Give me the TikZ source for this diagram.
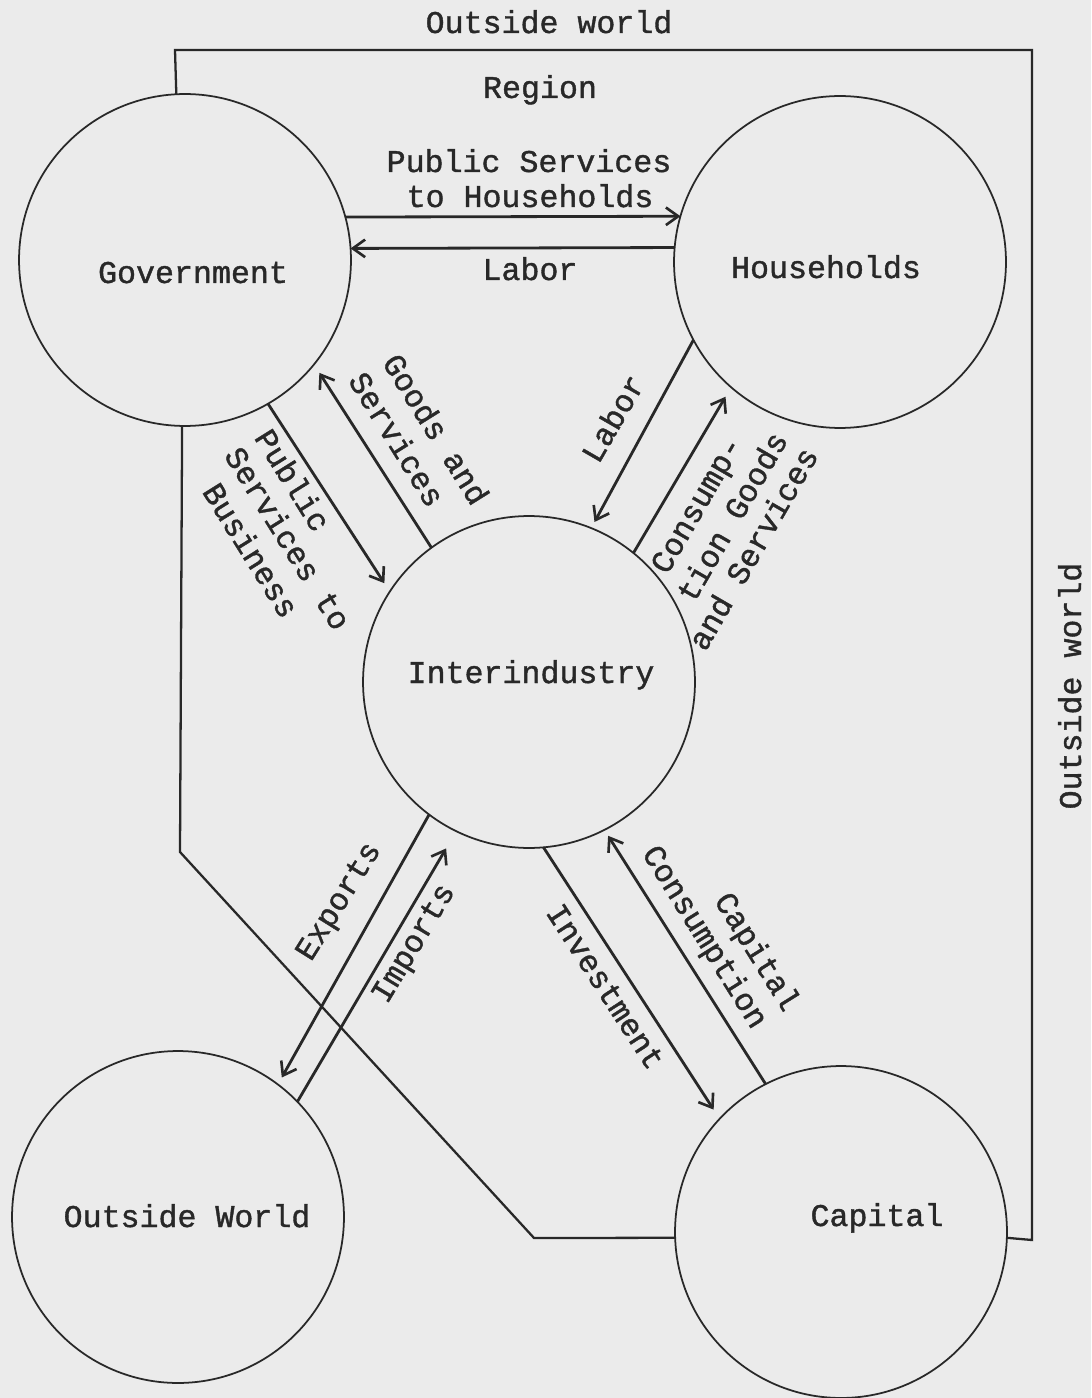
\documentclass[tikz,border=0pt]{standalone}
\usepackage{fontspec}
\newfontfamily\tw[FakeBold=1.2]{Liberation Mono}
\usetikzlibrary{arrows.meta}
\definecolor{paper}{RGB}{235,235,235}
\definecolor{ink}{RGB}{40,40,40}
\begin{document}
\begin{tikzpicture}[x=0.02cm,y=-0.02cm,
  circ/.style={draw=ink, line width=1pt, circle, minimum size=6.64cm, inner sep=0pt, outer sep=0pt},
  txt/.style={font=\tw\fontsize{18}{21}\selectfont, text=ink, inner sep=0pt, anchor=base},
  rl/.style={font=\tw\fontsize{18}{21}\selectfont, text=ink, inner sep=0pt, anchor=mid},
  bnd/.style={draw=ink, line width=1.3pt},
  arr/.style={draw=ink, line width=1.6pt, -{Straight Barb[length=7pt,width=10pt,line width=1.5pt]}}]
\fill[paper] (0,0) rectangle (1091,1398);
\useasboundingbox (0,0) rectangle (1091,1398);
% circles
\node[circ] (gov) at (185,260) {};
\node[circ] (hh) at (840,262) {};
\node[circ] (int) at (529,682) {};
\node[circ] (ow) at (178,1217) {};
\node[circ] (cap) at (841,1232) {};
% circle labels
\node[txt] (tgov) at (193,283) {Government};
\node[txt] (thh) at (826,278) {Households};
\node[txt] (tint) at (531,683) {Interindustry};
\node[txt] (tow2) at (187,1227) {Outside World};
\node[txt] (tcap) at (877,1226) {Capital};
% region labels
\node[txt] (tow) at (549,33) {Outside world};
\node[txt] (treg) at (540,98) {Region};
\node[txt, rotate=90] (towr) at (1081,686) {Outside world};
% boundary
\coordinate (tl) at (175,50);
\coordinate (tr) at (1032,50);
\coordinate (br) at (1032,1240);
\coordinate (lb1) at (180,852);
\coordinate (lb2) at (534,1238);
\draw[bnd] (gov.93.5) -- (tl) -- (tr) -- (br) -- (cap.-2.8);
\draw[bnd] (gov.-91.7) -- (lb1) -- (lb2) -- (cap.182.1);
% arrows
\draw[arr] (gov.15) -- (hh.164.5);
\draw[arr] (hh.175.2) -- (gov.4.1);
\draw[arr, shorten >=0.2cm] (gov.-60.6) -- (int.147.5);
\draw[arr, shorten >=0.2cm] (int.126.3) -- (gov.-39.9);
\draw[arr, shorten >=0.14cm] (hh.-152) -- (int.68.7);
\draw[arr, shorten >=0.22cm] (int.51.2) -- (hh.-131);
\draw[arr, shorten >=0.16cm] (int.-127.5) -- (ow.53.9);
\draw[arr, shorten >=0.4cm] (ow.44.3) -- (int.-116);
\draw[arr, shorten >=0.22cm] (int.-85.6) -- (cap.137.7);
\draw[arr, shorten >=0.14cm] (cap.117.9) -- (int.-63);
% arrow labels
\node[txt] (tps1) at (529,172) {Public Services};
\node[txt] (tps2) at (530,207) {to Households};
\node[txt] (tlab1) at (530,280) {Labor};
\node[rl, rotate=-58] (lpsb1) at (287,484) {Public};
\node[rl, rotate=-58] (lpsb2) at (282,542) {Services to};
\node[rl, rotate=-58] (lpsb3) at (245,554) {Business};
\node[rl, rotate=-58] (lgs1) at (430,433) {Goods and};
\node[rl, rotate=-58] (lgs2) at (391,443) {Services};
\node[rl, rotate=60] (llab2) at (619,422) {Labor};
\node[rl, rotate=60] (lcg1) at (702,508) {Consump-};
\node[rl, rotate=60] (lcg2) at (738,520) {tion Goods};
\node[rl, rotate=60] (lcg3) at (759,552) {and Services};
\node[rl, rotate=58] (lexp) at (343,904) {Exports};
\node[rl, rotate=59] (limp) at (418,946) {Imports};
\node[rl, rotate=-57] (linv) at (600,990) {Investment};
\node[rl, rotate=-58] (lcc1) at (752,955) {Capital};
\node[rl, rotate=-58] (lcc2) at (700,940) {Consumption};
\end{tikzpicture}
\end{document}
